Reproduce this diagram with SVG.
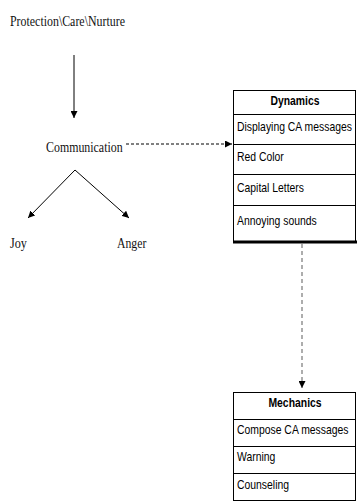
<svg xmlns="http://www.w3.org/2000/svg" width="357" height="502" viewBox="0 0 357 502">
<defs>
<style>
.serif{font-family:"Liberation Serif","Times New Roman",serif;font-size:14px;fill:#111}
.sans{font-family:"Liberation Sans",Arial,sans-serif;font-size:13px;fill:#000}
.head{font-weight:bold}
.box{fill:#fff;stroke:#000;stroke-width:1}
.row{stroke:#000;stroke-width:1}
.ln{stroke:#000;stroke-width:1;fill:none}
.dash{stroke:#000;stroke-width:1;fill:none;stroke-dasharray:3 2}
.gdash{stroke:#777;stroke-width:1.2;fill:none;stroke-dasharray:4 3}
</style>
<marker id="ah" viewBox="0 0 10 10" refX="10" refY="5" markerWidth="7" markerHeight="7" markerUnits="userSpaceOnUse" orient="auto">
<path d="M0,0 L10,5 L0,10 z" fill="#000"/>
</marker>
</defs>
<rect width="357" height="502" fill="#fff"/>
<g id="connectors">
<line class="ln" x1="74" y1="55" x2="74" y2="118" marker-end="url(#ah)"/>
<line class="ln" x1="75" y1="170" x2="28" y2="218" marker-end="url(#ah)"/>
<line class="ln" x1="75" y1="170" x2="129" y2="218" marker-end="url(#ah)"/>
<line class="dash" x1="126" y1="144" x2="232" y2="144" marker-end="url(#ah)"/>
<line class="gdash" x1="302" y1="244" x2="302" y2="388" marker-end="url(#ah)"/>
</g>
<g id="node-protection">
<text class="serif" transform="translate(10,26) scale(0.85,1)">Protection\Care\Nurture</text>
</g>
<g id="node-communication">
<text class="serif" transform="translate(46,152) scale(0.85,1)">Communication</text>
</g>
<g id="node-joy">
<text class="serif" transform="translate(10,248) scale(0.87,1)">Joy</text>
</g>
<g id="node-anger">
<text class="serif" transform="translate(117,248) scale(0.84,1)">Anger</text>
</g>
<g id="node-dynamics">
<rect class="box" x="233.5" y="90.5" width="122" height="152"/>
<line class="row" x1="233.5" y1="114.5" x2="355.5" y2="114.5"/>
<line class="row" x1="233.5" y1="144.5" x2="355.5" y2="144.5"/>
<line class="row" x1="233.5" y1="174.5" x2="355.5" y2="174.5"/>
<line class="row" x1="233.5" y1="205.5" x2="355.5" y2="205.5"/>
<line x1="233" y1="242" x2="357" y2="242" stroke="#000" stroke-width="3"/>
<text class="sans head" text-anchor="middle" transform="translate(295,105) scale(0.8,1)">Dynamics</text>
<text class="sans" transform="translate(237,131) scale(0.8,1)">Displaying CA messages</text>
<text class="sans" transform="translate(237,161) scale(0.8,1)">Red Color</text>
<text class="sans" transform="translate(237,192) scale(0.8,1)">Capital Letters</text>
<text class="sans" transform="translate(237,225) scale(0.8,1)">Annoying sounds</text>
</g>
<g id="node-mechanics">
<rect class="box" x="233.5" y="392.5" width="122" height="108"/>
<line class="row" x1="233.5" y1="419.5" x2="355.5" y2="419.5"/>
<line class="row" x1="233.5" y1="446.5" x2="355.5" y2="446.5"/>
<line class="row" x1="233.5" y1="473.5" x2="355.5" y2="473.5"/>
<text class="sans head" text-anchor="middle" transform="translate(295,407) scale(0.8,1)">Mechanics</text>
<text class="sans" transform="translate(237,434) scale(0.8,1)">Compose CA messages</text>
<text class="sans" transform="translate(237,461) scale(0.8,1)">Warning</text>
<text class="sans" transform="translate(237,489) scale(0.8,1)">Counseling</text>
</g>
</svg>
